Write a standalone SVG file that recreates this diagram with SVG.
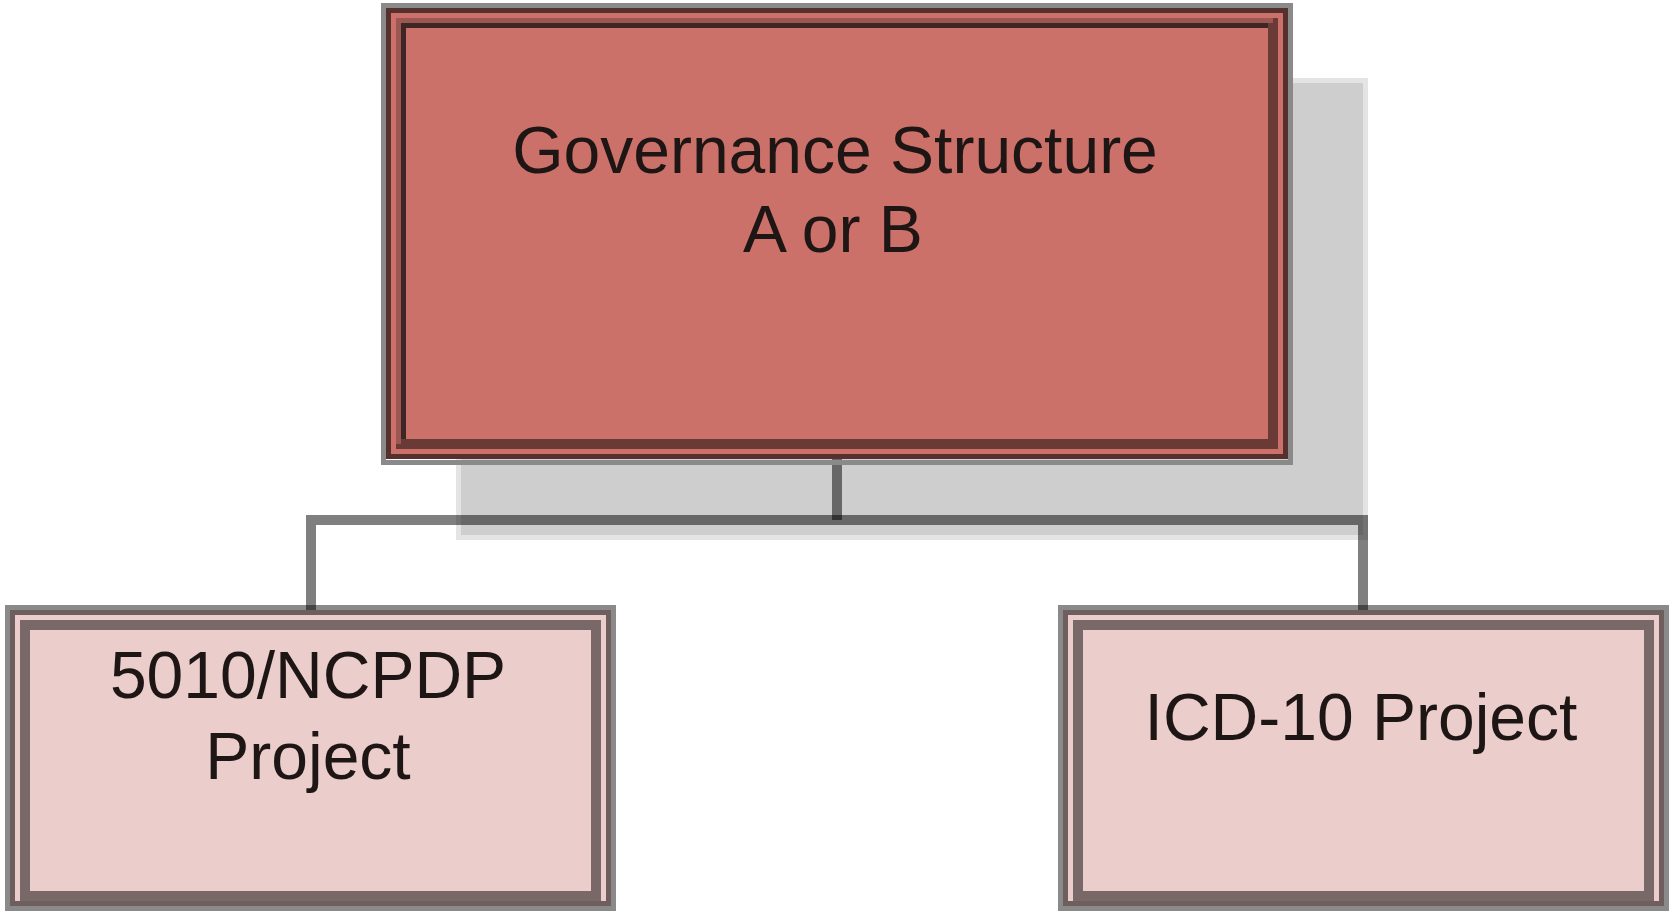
<svg xmlns="http://www.w3.org/2000/svg" width="1669" height="912" viewBox="0 0 1669 912">
<style>
.lbl{font-family:"Liberation Sans",Arial,sans-serif;font-size:66px;fill:#1e1615;text-anchor:middle}
.ring-out{fill:none;stroke:#8a8a8a;stroke-width:5}
.top-dark{fill:#cc716a;stroke:#55302d;stroke-width:5}
.top-inner{fill:none;stroke:#6a3a36;stroke-width:10}
.ch-dark{fill:#ebcdcb;stroke:#6e5e5e;stroke-width:5}
.ch-inner{fill:none;stroke:#786868;stroke-width:10}
.conn{fill:none;stroke:#000;stroke-opacity:0.5;stroke-width:10;stroke-linejoin:miter}
</style>
<rect width="1669" height="912" fill="#ffffff"/>
<rect id="shadow" x="458.5" y="80.5" width="907" height="457" fill="#cecece" stroke="#e4e4e4" stroke-width="5"/>
<g id="node-5010">
<rect class="ring-out" x="7.5" y="607.5" width="606" height="301"/>
<rect class="ch-dark" x="12.5" y="612.5" width="596" height="291"/>
<rect class="ch-inner" x="25" y="625" width="571" height="271"/>
<text class="lbl" x="308" y="698">5010/NCPDP</text>
<text class="lbl" x="308" y="779">Project</text>
</g>
<g id="node-icd10">
<rect class="ring-out" x="1060.5" y="607.5" width="606" height="301"/>
<rect class="ch-dark" x="1065.5" y="612.5" width="596" height="291"/>
<rect class="ch-inner" x="1078" y="625" width="571" height="271"/>
<text class="lbl" x="1361" y="740">ICD-10 Project</text>
</g>
<g id="connectors">
<path class="conn" d="M311,610 V520 H1363 V610"/>
<path class="conn" d="M837,459 V520" stroke-opacity="0.75"/>
</g>
<g id="node-governance">
<rect class="ring-out" x="383.5" y="5.5" width="907" height="457"/>
<rect class="top-dark" x="388.5" y="10.5" width="897" height="446"/>
<rect class="top-inner" x="401" y="23" width="872" height="421"/>
<path d="M398.5,444 V20.5 H1273" fill="none" stroke="#9c5752" stroke-width="5"/>
<path d="M403.5,439 V25.5 H1268" fill="none" stroke="#3e2624" stroke-width="5"/>
<text class="lbl" x="835" y="173" font-size="67">Governance Structure</text>
<text class="lbl" x="833" y="252" font-size="67">A or B</text>
</g>
</svg>
